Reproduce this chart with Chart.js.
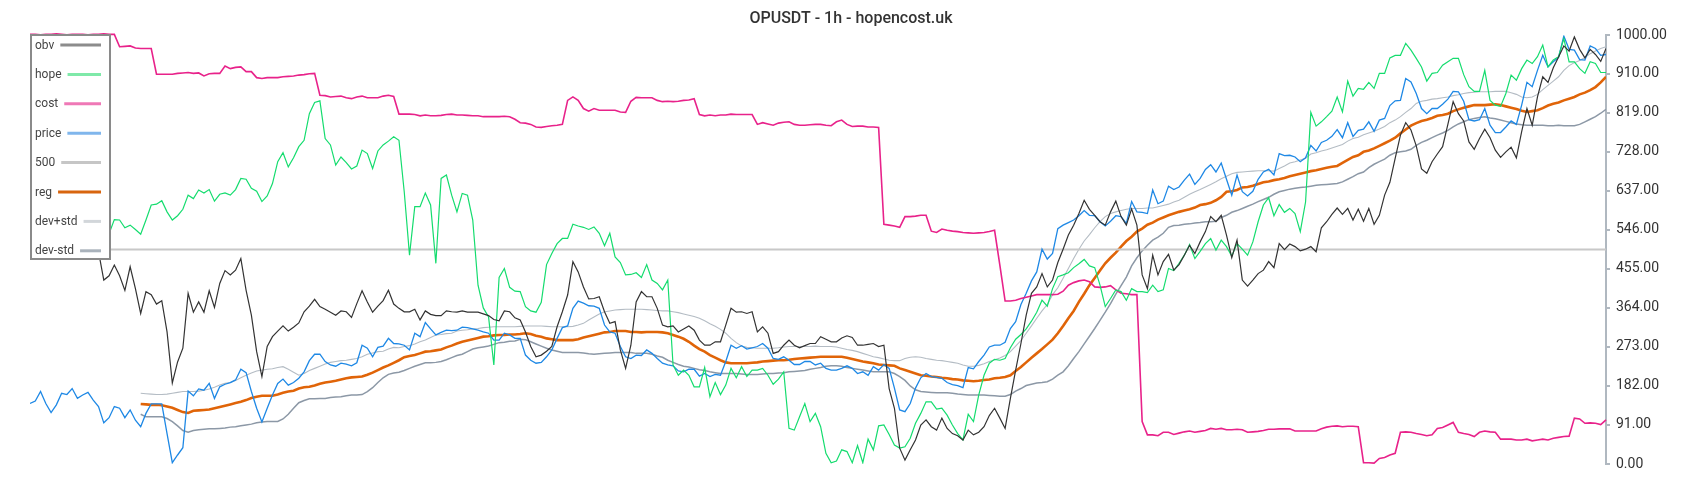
<!DOCTYPE html>
<html><head><meta charset="utf-8">
<script src="https://cdn.jsdelivr.net/npm/chart.js@4.4.1/dist/chart.umd.min.js"></script>
<style>html,body{margin:0;padding:0;background:#fff;}#wrap{width:1700px;height:500px;position:relative;}</style>
</head><body><div id="wrap"><canvas id="c"></canvas></div>
<script>
const chartTitle = 'OPUSDT - 1h - hopencost.uk';
const tickValues = [0,91,182,273,364,455,546,637,728,819,910,1000];
const seriesNames = ['obv','hope','cost','price','500','reg','dev+std','dev-std'];
const lineColors = ['#333333','#14dc6e','#e8228a','#1e88e5','#c8c8c8','#e06408','#b4bcc4','#8c98a6'];
const legendColors = ['#8c8c8c','#7fe9a9','#ef78b6','#80b6ec','#c6c6c6','#d8650e','#d2d6da','#a9b2bb'];
const level500 = 500;

const obv = [
540,560,530,575,550,565,520,540,560,530,
550,570,540,495,429,439,464,439,405,460,
409,351,402,395,373,381,308,189,238,270,
398,354,378,354,404,365,421,451,441,452,
479,405,347,262,204,274,297,310,322,310,
319,329,355,368,384,367,361,354,347,357,
355,342,374,404,378,354,368,381,405,373,
363,355,355,361,336,357,349,346,346,357,
355,354,357,354,354,354,350,346,337,334,
357,355,341,336,308,274,250,254,263,274,
320,355,394,472,448,413,385,386,390,355,
328,332,266,223,277,378,402,390,390,363,
324,320,322,308,315,322,312,289,277,277,
285,285,324,363,354,355,351,355,308,320,
305,258,262,277,289,277,271,276,281,281,
297,291,285,285,294,299,295,277,277,279,
281,274,277,176,130,37,9,33,56,91,
103,87,79,107,83,71,66,56,79,68,
74,87,113,130,107,83,153,219,281,347,
398,413,444,413,429,470,501,534,557,584,
615,594,580,565,557,588,613,577,557,595,
557,441,409,487,441,472,489,452,465,487,
510,491,518,542,577,565,580,534,481,522,
429,415,429,444,452,472,458,514,500,513,
507,497,501,507,495,551,565,582,597,582,
596,569,594,566,596,559,580,627,657,713,
767,796,779,742,688,678,705,723,740,792,
845,817,800,751,734,759,781,761,732,715,
728,739,714,775,829,790,856,903,890,924,
949,975,963,996,967,947,967,955,939,969
];

const hope = [
560,575,545,580,600,570,590,560,580,595,
565,585,600,575,555,537,570,569,551,557,
547,536,569,604,606,614,588,569,579,594,
627,619,639,632,640,613,629,632,627,640,
666,664,643,636,612,625,654,705,726,693,
714,740,755,817,843,847,759,744,697,716,
703,688,695,732,724,689,730,744,753,763,
755,635,487,600,600,632,604,468,666,674,
627,588,631,627,569,417,364,343,231,435,
456,412,403,402,367,357,354,377,465,491,
514,526,526,559,555,552,547,553,538,509,
538,483,470,441,442,446,435,465,429,421,
406,429,231,207,219,207,180,180,225,157,
190,162,184,223,201,227,204,219,219,223,
207,186,198,215,83,79,110,141,99,118,
87,25,3,7,33,29,3,43,3,58,
33,89,91,69,44,37,40,60,95,118,
145,145,128,130,114,91,71,56,116,99,
161,207,235,244,242,246,271,291,302,315,
333,354,382,368,409,437,441,446,458,467,
477,462,458,417,367,386,406,402,382,409,
402,402,400,417,402,406,456,451,468,487,
512,479,496,514,526,499,522,507,485,514,
501,487,518,565,604,621,579,605,587,596,
584,542,611,820,788,798,810,823,856,821,
893,858,876,874,890,876,911,911,947,953,
953,981,965,946,926,893,911,913,930,938,
946,946,908,880,869,869,918,848,837,834,
864,907,895,922,942,934,950,977,926,942,
950,992,938,938,922,911,938,934,913,913
];

const cost = [
1002,1002,1001,1002,1002,1003,1002,1001,1002,1002,
1002,1001,1002,1002,1003,1002,1002,973,974,975,
970,969,969,969,909,909,909,909,911,912,
913,911,912,905,910,911,911,928,922,925,
926,915,915,901,899,901,901,901,903,904,
905,907,908,910,911,860,859,856,857,858,
854,852,856,858,854,854,854,858,860,857,
816,816,816,815,812,814,812,812,813,815,
816,814,814,813,812,812,810,810,810,810,
811,810,804,796,795,792,786,785,787,789,
790,792,848,856,848,829,823,829,825,825,
825,825,821,820,846,855,854,854,854,848,
845,846,845,846,848,849,852,815,812,814,
812,814,814,816,815,815,815,815,792,796,
793,790,795,797,798,792,790,790,791,792,
792,790,789,798,802,792,787,788,788,786,
786,785,559,557,555,552,577,577,578,580,
580,543,540,548,545,543,542,540,539,538,
539,540,542,545,464,380,380,382,386,389,
392,395,395,395,395,396,403,417,423,427,
429,425,413,412,413,416,406,398,397,395,
395,99,68,68,66,74,74,69,72,75,
77,74,76,78,83,81,83,80,80,81,
80,74,75,76,78,81,81,82,82,82,
77,77,77,77,77,82,86,88,89,87,
88,88,87,3,3,2,13,15,21,25,
74,75,74,71,69,66,68,83,85,91,
97,74,71,69,64,74,77,75,74,58,
58,58,56,56,58,54,56,58,56,60,
62,64,65,107,105,95,96,95,92,103
];

const price = [
141,147,169,141,120,138,165,162,176,153,
161,167,149,134,96,108,134,130,108,126,
102,87,118,140,140,140,71,3,21,38,
170,159,175,172,188,153,180,186,190,196,
221,213,169,130,98,130,161,188,198,184,
190,200,215,241,256,256,239,231,228,235,
233,229,236,277,270,250,272,275,293,281,
280,277,266,305,297,330,315,301,307,312,
311,312,319,318,315,312,308,305,289,289,
305,301,293,293,254,242,235,237,250,266,
293,318,322,363,380,375,369,368,363,324,
308,305,274,250,246,254,253,266,258,246,
235,231,229,217,215,221,221,205,211,204,
209,207,239,277,270,276,268,271,274,281,
270,246,244,250,242,232,232,239,239,231,
235,223,219,219,223,229,223,211,215,207,
227,219,232,223,177,126,122,141,177,201,
211,204,202,200,190,185,183,178,225,222,
239,254,273,277,277,284,316,332,372,398,
427,448,501,478,491,549,557,563,569,579,
591,580,579,565,555,566,579,577,561,612,
588,587,584,639,607,613,648,640,646,662,
676,652,666,687,698,681,702,664,627,674,
635,625,636,664,681,687,674,724,719,720,
716,705,714,743,730,750,755,764,780,761,
796,764,778,781,798,776,802,806,836,847,
848,899,891,864,829,817,829,829,839,851,
869,868,846,803,800,803,829,790,773,773,
786,800,792,837,890,880,918,953,926,938,
948,998,967,965,943,942,975,969,953,955
];

const reg = [
null,null,null,null,null,null,null,null,null,null,
null,null,null,null,null,null,null,null,null,null,
null,140,139,138,138,137,134,131,126,121,
119,124,125,126,127,130,133,136,139,142,
145,149,154,157,159,159,159,162,166,169,
171,176,179,180,183,187,190,192,194,197,
200,202,203,204,208,213,219,225,230,236,
242,249,252,254,258,262,263,265,267,272,
276,281,285,288,291,294,297,298,300,301,
301,302,302,303,305,303,299,297,293,291,
289,289,289,289,291,295,298,301,304,307,
308,310,310,310,308,308,307,308,308,308,
307,305,301,297,292,285,276,268,262,254,
248,242,237,235,235,235,235,236,237,239,
240,241,242,242,243,245,246,247,248,249,
250,250,250,250,250,248,245,242,239,237,
235,232,231,230,229,223,219,215,211,207,
206,204,203,201,200,198,197,195,194,193,
194,196,197,200,201,203,207,217,226,237,
248,258,268,279,290,305,322,340,357,378,
397,417,434,451,468,481,493,507,520,530,
542,549,558,563,570,575,580,584,588,591,
594,598,604,606,609,615,623,635,636,639,
645,646,649,653,657,659,662,664,667,671,
674,677,680,683,685,688,691,693,695,702,
709,716,720,728,731,736,742,748,754,761,
771,780,789,795,800,803,807,812,814,817,
823,827,831,834,837,837,837,838,839,837,
834,831,828,824,821,823,825,830,836,840,
843,848,852,856,862,866,872,879,890,903
];

const devPlus = [
null,null,null,null,null,null,null,null,null,null,
null,null,null,null,null,null,null,null,null,null,
null,165,164,163,162,162,163,165,167,169,
169,169,170,172,175,179,184,188,190,195,
201,207,212,217,219,221,222,225,227,221,
214,207,211,218,223,228,233,237,239,241,
242,244,246,250,256,259,262,263,268,272,
271,274,276,280,285,289,295,301,302,304,
305,310,312,313,315,316,318,319,320,320,
320,320,320,321,322,322,322,322,321,320,
320,320,320,321,324,328,336,343,350,355,
357,359,360,361,361,361,361,360,359,358,
357,357,355,353,350,347,344,340,334,327,
321,314,305,293,283,275,272,271,270,270,
270,270,271,273,274,274,274,274,274,275,
274,274,274,273,270,267,265,262,258,254,
250,248,245,242,241,241,246,249,250,249,
246,244,242,241,239,237,235,231,228,228,
230,234,239,243,247,253,262,275,288,305,
322,340,357,372,395,411,433,456,479,501,
520,535,551,565,577,584,588,591,594,596,
596,596,597,597,600,603,606,611,615,622,
629,635,640,646,652,658,665,671,677,680,
681,682,683,684,684,684,683,689,695,702,
705,709,713,723,726,730,733,737,741,745,
753,759,762,768,772,776,781,787,796,802,
810,820,829,841,846,848,851,852,854,856,
859,861,864,866,867,868,868,868,869,869,
869,866,862,856,854,856,862,873,883,893,
903,918,929,936,941,948,957,963,969,973
];

const devMinus = [
null,null,null,null,null,null,null,null,null,null,
null,null,null,null,null,null,null,null,null,null,
null,116,110,110,110,110,106,99,89,78,
74,78,80,81,82,82,83,84,86,87,
89,91,93,96,98,99,99,99,105,116,
130,143,148,152,152,153,153,155,156,157,
159,161,161,162,169,178,190,201,209,212,
214,218,223,228,232,236,236,237,239,243,
248,253,256,262,268,271,273,275,279,283,
284,286,287,291,290,285,280,275,270,266,
263,260,260,260,260,259,257,256,257,258,
259,260,260,260,260,258,258,258,256,252,
249,242,237,232,228,226,223,220,218,215,
213,211,211,211,211,210,209,209,209,210,
211,211,212,213,215,216,217,218,221,223,
225,228,229,229,228,225,223,221,219,217,
215,215,215,215,211,204,195,182,173,169,
168,167,166,166,166,165,163,162,161,161,
161,161,160,159,158,158,162,170,176,183,
186,189,190,192,198,207,215,229,246,262,
280,298,316,335,354,374,396,416,436,462,
481,497,510,522,529,538,552,556,557,559,
560,562,563,565,565,566,575,580,587,591,
596,601,606,612,617,622,629,635,638,641,
643,645,646,648,650,651,652,653,654,658,
664,670,677,681,691,699,705,711,720,726,
728,730,734,743,750,755,761,767,772,778,
786,793,798,803,806,808,810,807,805,802,
799,796,793,791,790,790,790,790,789,789,
790,789,789,789,792,798,804,810,818,827
];

const N = price.length;
const categories = price.map((_, i) => i);
const seriesData = [obv, hope, cost, price,
  [{x: 0, y: level500}, {x: N - 1, y: level500}],
  reg, devPlus, devMinus];
const widths = [1.2, 1.2, 1.6, 1.3, 2, 2.6, 1.1, 1.5];

const boxLegend = {
  id: 'boxLegend',
  afterDraw(chart) {
    const ctx = chart.ctx;
    const x0 = 30, y0 = 34, w = 81, h = 226;
    ctx.save();
    ctx.fillStyle = '#ffffff';
    ctx.fillRect(x0, y0, w, h);
    ctx.strokeStyle = '#8a8a8a';
    ctx.lineWidth = 2;
    ctx.strokeRect(x0 + 1, y0 + 1, w - 2, h - 2);
    ctx.font = '12px Roboto';
    ctx.textBaseline = 'middle';
    ctx.textAlign = 'left';
    seriesNames.forEach((name, k) => {
      const y = 45 + k * 29.4;
      ctx.fillStyle = '#444444';
      ctx.fillText(name, 35, y + 0.5);
      const tw = ctx.measureText(name).width;
      ctx.strokeStyle = legendColors[k];
      ctx.lineWidth = 3;
      ctx.beginPath();
      ctx.moveTo(35 + tw + 6, y);
      ctx.lineTo(101, y);
      ctx.stroke();
    });
    ctx.restore();
  }
};

new Chart(document.getElementById('c'), {
  type: 'line',
  data: {
    labels: categories,
    datasets: seriesNames.map((name, k) => ({
      label: name,
      data: seriesData[k],
      borderColor: lineColors[k],
      backgroundColor: lineColors[k],
      borderWidth: widths[k],
      pointRadius: 0,
      tension: 0,
      fill: false,
      spanGaps: false,
      clip: name === 'cost' ? 4 : undefined
    }))
  },
  options: {
    responsive: true,
    maintainAspectRatio: false,
    devicePixelRatio: 1,
    animation: false,
    layout: {padding: {left: 30, right: 28, top: 0, bottom: 36}},
    plugins: {
      legend: {display: false},
      tooltip: {enabled: false},
      title: {display: true, text: chartTitle, color: '#333333',
        font: {family: 'Roboto', size: 16, weight: '500'}, padding: {top: 9, bottom: 7}}
    },
    scales: {
      x: {type: 'linear', display: false, min: 0, max: N - 1, offset: false},
      y: {
        position: 'right', min: 0, max: 1000,
        afterBuildTicks: s => { s.ticks = tickValues.map(v => ({value: v})); },
        afterFit: s => { s.width = 66; },
        ticks: {callback: v => Number(v).toFixed(2), color: '#333333', padding: 6,
          font: {family: 'Roboto', size: 14}},
        grid: {drawOnChartArea: false, drawTicks: true, tickLength: 4, color: '#b0b8c0', lineWidth: 2},
        border: {display: true, color: '#b0b8c0', width: 2}
      }
    }
  },
  plugins: [boxLegend]
});
</script>
</body></html>
